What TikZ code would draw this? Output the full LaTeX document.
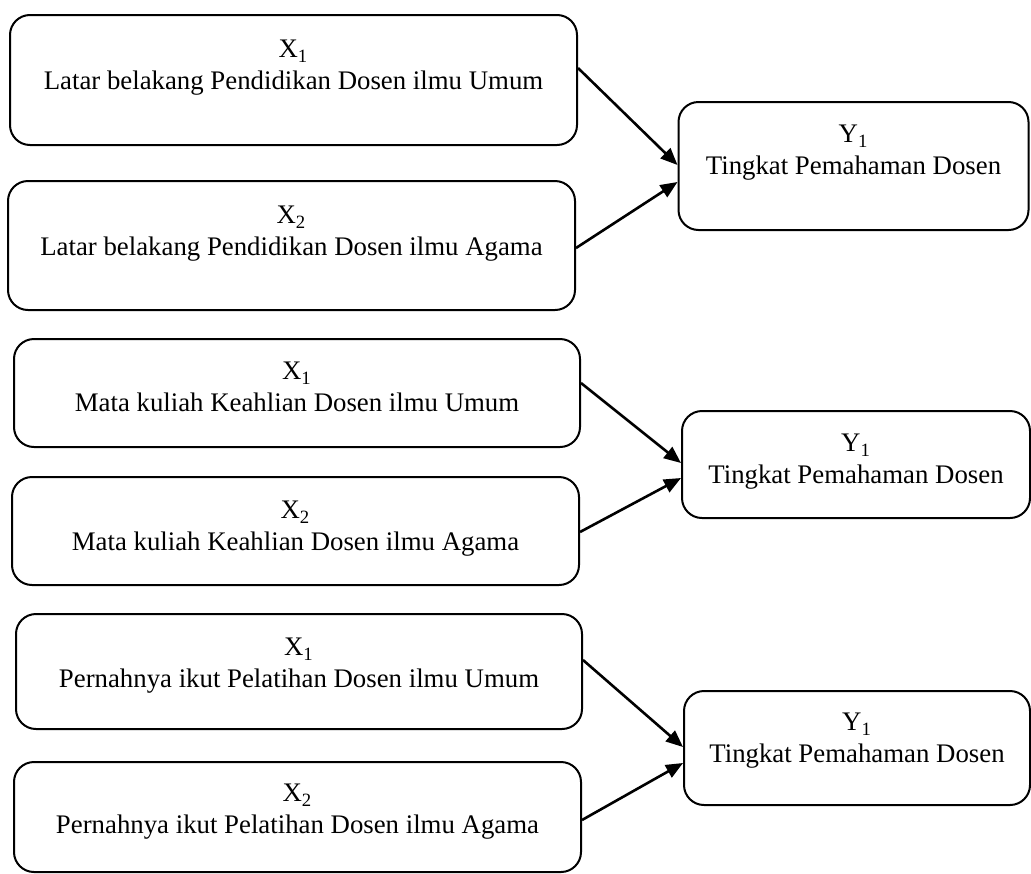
\documentclass[tikz,border=0pt]{standalone}
\usepackage{fontspec}
\setmainfont{Liberation Serif}
\usetikzlibrary{arrows.meta}
\begin{document}
\begin{tikzpicture}[x=0.5pt,y=-0.5pt,
  boxx/.style={draw,line width=1pt,rounded corners=10pt,inner sep=0pt,minimum width=#1},
  txt/.style={anchor=north,inner sep=0pt,align=center,font=\fontsize{13.4}{15.8}\selectfont},
  arr/.style={line width=1.3pt,-{Triangle[length=8.5pt,width=7pt]}}]
\useasboundingbox (0,0) rectangle (1031,873);
% group 1
\node[boxx=283.5pt,minimum height=65pt] (b1) at (293.5,80) {};
\node[boxx=283.5pt,minimum height=64.5pt] (b2) at (291.5,245.5) {};
\node[boxx=175pt,minimum height=64pt] (y1) at (853.5,166) {};
\node[txt] (t1) at (293.5,40) {X\textsubscript{1}\\Latar belakang Pendidikan Dosen ilmu Umum};
\node[txt] (t2) at (291.5,206) {X\textsubscript{2}\\Latar belakang Pendidikan Dosen ilmu Agama};
\node[txt] (ty1) at (853.5,125) {Y\textsubscript{1}\\Tingkat Pemahaman Dosen};
\draw[arr] ([yshift=6pt]b1.east) -- ([yshift=0.5pt]y1.west);
\draw[arr] ([yshift=-1.25pt]b2.east) -- ([yshift=-8pt]y1.west);
% group 2
\node[boxx=283pt,minimum height=54pt] (b3) at (297,393) {};
\node[boxx=283.5pt,minimum height=54pt] (b4) at (295.5,531) {};
\node[boxx=174pt,minimum height=53.5pt] (y2) at (856,464.5) {};
\node[txt] (t3) at (297,362) {X\textsubscript{1}\\Mata kuliah Keahlian Dosen ilmu Umum};
\node[txt] (t4) at (295.5,501) {X\textsubscript{2}\\Mata kuliah Keahlian Dosen ilmu Agama};
\node[txt] (ty2) at (856,434) {Y\textsubscript{1}\\Tingkat Pemahaman Dosen};
\draw[arr] ([yshift=5pt]b3.east) -- ([yshift=0.75pt]y2.west);
\draw[arr] ([yshift=-0.5pt]b4.east) -- ([yshift=-6.75pt]y2.west);
% group 3
\node[boxx=283pt,minimum height=57.5pt] (b5) at (299,671.5) {};
\node[boxx=283.5pt,minimum height=55pt] (b6) at (297.5,817) {};
\node[boxx=173pt,minimum height=57pt] (y3) at (857,748) {};
\node[txt] (t5) at (299,638) {X\textsubscript{1}\\Pernahnya ikut Pelatihan Dosen ilmu Umum};
\node[txt] (t6) at (297.5,784) {X\textsubscript{2}\\Pernahnya ikut Pelatihan Dosen ilmu Agama};
\node[txt] (ty3) at (857,713) {Y\textsubscript{1}\\Tingkat Pemahaman Dosen};
\draw[arr] ([yshift=5.75pt]b5.east) -- ([yshift=0.5pt]y3.west);
\draw[arr] ([yshift=-1.5pt]b6.east) -- ([yshift=-7.5pt]y3.west);
\end{tikzpicture}
\end{document}
